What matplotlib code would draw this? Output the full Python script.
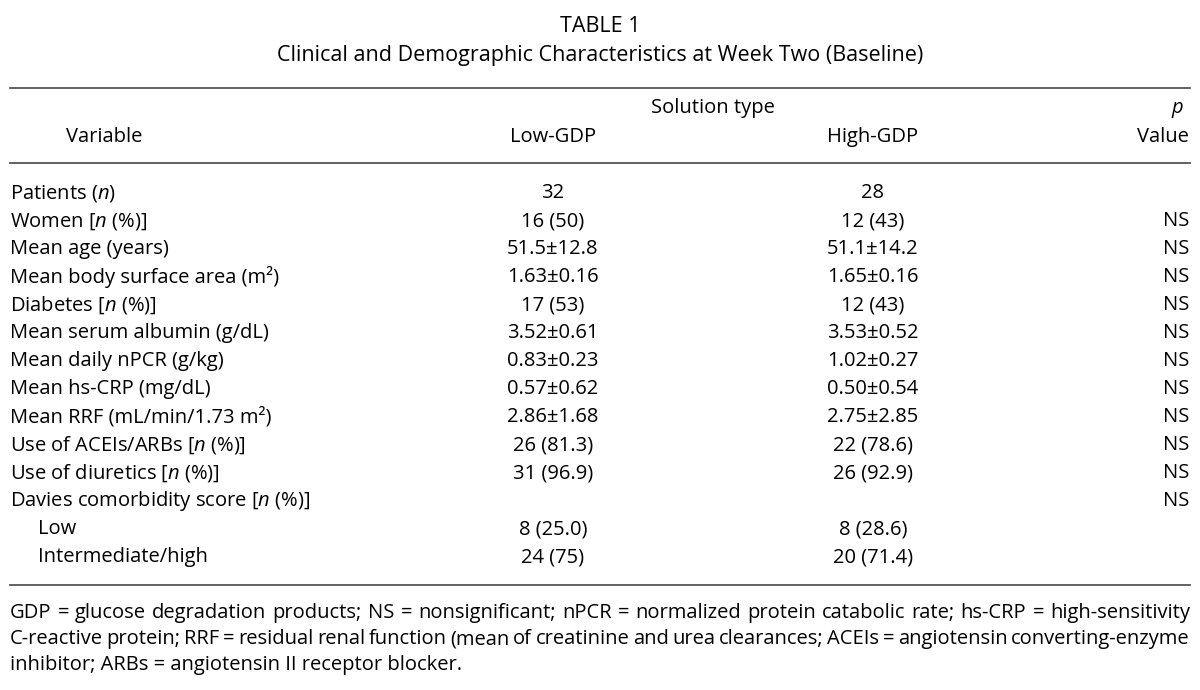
import matplotlib
matplotlib.use('Agg')
import matplotlib.pyplot as plt

# fonts: humanist sans, italic n via mathtext
plt.rcParams['font.family'] = ['Open Sans', 'DejaVu Sans']
plt.rcParams['mathtext.fontset'] = 'custom'
plt.rcParams['mathtext.rm'] = 'Open Sans'
plt.rcParams['mathtext.it'] = 'Open Sans:italic'

title = 'TABLE 1'
subtitle = 'Clinical and Demographic Characteristics at Week Two (Baseline)'

variables = ['Patients ($n$)', 'Women [$n$ (%)]', 'Mean age (years)',
             'Mean body surface area (m²)', 'Diabetes [$n$ (%)]',
             'Mean serum albumin (g/dL)', 'Mean daily nPCR (g/kg)',
             'Mean hs-CRP (mg/dL)', 'Mean RRF (mL/min/1.73 m²)',
             'Use of ACEIs/ARBs [$n$ (%)]', 'Use of diuretics [$n$ (%)]',
             'Davies comorbidity score [$n$ (%)]', 'Low', 'Intermediate/high']
indented = [False] * 12 + [True, True]
low_gdp = ['32', '16 (50)', '51.5±12.8', '1.63±0.16', '17 (53)', '3.52±0.61',
           '0.83±0.23', '0.57±0.62', '2.86±1.68', '26 (81.3)', '31 (96.9)',
           '', '8 (25.0)', '24 (75)']
high_gdp = ['28', '12 (43)', '51.1±14.2', '1.65±0.16', '12 (43)', '3.53±0.52',
            '1.02±0.27', '0.50±0.54', '2.75±2.85', '22 (78.6)', '26 (92.9)',
            '', '8 (28.6)', '20 (71.4)']
p_values = ['', 'NS', 'NS', 'NS', 'NS', 'NS', 'NS', 'NS', 'NS', 'NS', 'NS',
            'NS', '', '']

footnote = [
    'GDP = glucose degradation products; NS = nonsignificant; nPCR = normalized protein catabolic rate; hs-CRP = high-sensitivity',
    'C-reactive protein; RRF = residual renal function (mean of creatinine and urea clearances; ACEIs = angiotensin converting-enzyme',
    'inhibitor; ARBs = angiotensin II receptor blocker.',
]

fig = plt.figure(figsize=(12, 6.9), dpi=100)
ax = fig.add_axes([0, 0, 1, 1])
ax.set_xlim(0, 1200)
ax.set_ylim(690, 0)
ax.axis('off')

fs = 14.5
col = '#000000'

ax.text(600, 27, title, ha='center', va='center', fontsize=15.5, color=col)
ax.text(600, 55, subtitle, ha='center', va='center', fontsize=15.5, color=col)

ax.plot([10, 1190], [88, 88], color='#555555', lw=1.3)
ax.plot([10, 1190], [163, 163], color='#555555', lw=1.3)
ax.plot([10, 1190], [585, 585], color='#555555', lw=1.3)

# header
ax.text(713, 108, 'Solution type', ha='center', va='center', fontsize=fs, color=col)
ax.text(104, 137, 'Variable', ha='center', va='center', fontsize=fs, color=col)
ax.text(553, 137, 'Low-GDP', ha='center', va='center', fontsize=fs, color=col)
ax.text(873, 137, 'High-GDP', ha='center', va='center', fontsize=fs, color=col)
ax.text(1178, 110, '$p$', ha='center', va='center', fontsize=fs, color=col)
ax.text(1189, 137, 'Value', ha='right', va='center', fontsize=fs, color=col)

# body rows
y0, dy = 193, 28
for i, name in enumerate(variables):
    y = y0 + i * dy
    x = 38 if indented[i] else 10
    ax.text(x, y, name, ha='left', va='center', fontsize=fs, color=col)
    ax.text(553, y, low_gdp[i], ha='center', va='center', fontsize=fs, color=col)
    ax.text(873, y, high_gdp[i], ha='center', va='center', fontsize=fs, color=col)
    ax.text(1189, y, p_values[i], ha='right', va='center', fontsize=fs, color=col)

# footnote, first two lines justified to the table width
renderer = fig.canvas.get_renderer()
ffs = 14.5
for j, line in enumerate(footnote):
    y = 613 + j * 26
    if j == len(footnote) - 1:
        ax.text(10, y, line, ha='left', va='center', fontsize=ffs, color=col)
        continue
    words = line.split(' ')
    arts = [ax.text(0, y, w, ha='left', va='center', fontsize=ffs, color=col) for w in words]
    widths = [a.get_window_extent(renderer).width for a in arts]
    gap = (1180 - sum(widths)) / (len(words) - 1)
    x = 10
    for a, w in zip(arts, widths):
        a.set_x(x)
        x += w + gap

fig.savefig('out.png', dpi=100)
